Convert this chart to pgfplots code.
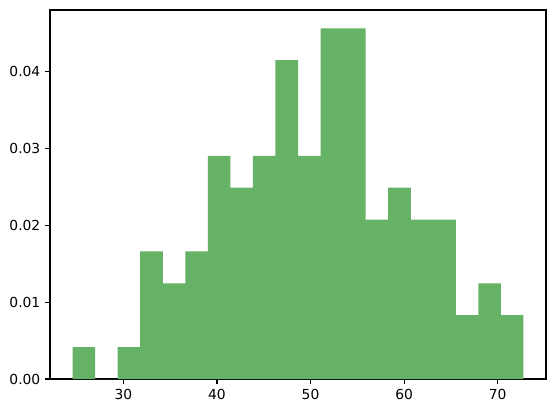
\documentclass[border=0pt]{standalone}
\usepackage{fontspec}
\setmainfont{DejaVu Sans}
\usepackage{pgfplots}
\pgfplotsset{compat=1.18}
\definecolor{histgreen}{RGB}{102,178,102}

\begin{document}
\begin{tikzpicture}
\begin{axis}[
    scale only axis,
    width=4.96in, height=3.69in,
    xmin=22.16, xmax=75.16,
    ymin=0, ymax=0.04804,
    xtick={30,40,50,60,70},
    ytick={0,0.01,0.02,0.03,0.04},
    scaled y ticks=false,
    yticklabel style={/pgf/number format/fixed, /pgf/number format/fixed zerofill, /pgf/number format/precision=2},
    /pgf/number format/assume math mode=true,
    tick label style={font=\fontsize{10}{12}\selectfont},
    tick align=outside,
    major tick length=3.5pt,
    every tick/.style={line width=0.8pt, black},
    axis line style={line width=0.8pt},
    xtick pos=bottom, ytick pos=left,
]
% density histogram, 20 bins (bin width ~2.409, n = 100)
\addplot[ybar interval, fill=histgreen, draw=none] coordinates {
    (24.57,0.00415)
    (26.98,0)
    (29.39,0.00415)
    (31.80,0.01660)
    (34.21,0.01245)
    (36.62,0.01660)
    (39.02,0.02906)
    (41.43,0.02491)
    (43.84,0.02906)
    (46.25,0.04151)
    (48.66,0.02906)
    (51.07,0.04566)
    (53.48,0.04566)
    (55.89,0.02076)
    (58.30,0.02491)
    (60.71,0.02076)
    (63.11,0.02076)
    (65.52,0.00830)
    (67.93,0.01245)
    (70.34,0.00830)
    (72.75,0.00830)
};
\end{axis}
\path[use as bounding box] ([xshift=-0.50in,yshift=-0.34in]current axis.south west)
    rectangle ([xshift=0.10in,yshift=0.10in]current axis.north east);
\end{tikzpicture}
\end{document}
